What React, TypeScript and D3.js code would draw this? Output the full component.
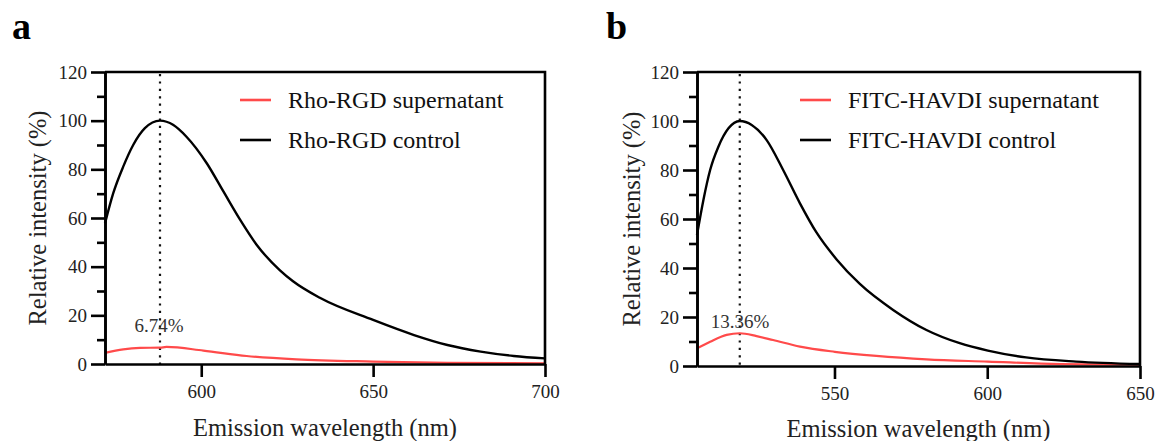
import React, { useEffect, useRef } from 'react';
import * as d3 from 'd3';

// Panel a: Rho-RGD
const rhoControlWl = [572, 574.4, 577.3, 580.2, 583.6, 588, 591.9, 595.7, 601.6, 606.4, 611.2, 616.1, 622.9, 626.7, 634.5, 650, 661.9, 671.6, 681.3, 690.9, 700];
const rhoControl = [57.8, 70.2, 81.1, 90, 96.9, 100, 98.2, 93.4, 82.5, 71, 59.5, 49, 38.5, 34, 27.2, 18.1, 11.9, 7.8, 5.1, 3.3, 2.3];
const rhoSupWl = [572, 577.3, 582.2, 588, 589.9, 600.6, 613.2, 627.7, 650, 671.6, 700];
const rhoSupernatant = [4.6, 6.0, 6.6, 6.74, 7.0, 5.5, 3.3, 1.9, 1.0, 0.5, 0.3];

// Panel b: FITC-HAVDI
const fitcControlWl = [505, 507.1, 509.3, 512, 515.3, 519, 522.9, 527.8, 533.2, 538.7, 544.1, 550.7, 558.3, 569.2, 580.1, 591, 600.2, 612.7, 629.1, 650];
const fitcControl = [53.5, 67.8, 80, 89.5, 97, 100, 98.4, 92.2, 80, 66.4, 54.5, 43.5, 33.5, 22.9, 14.7, 9.3, 6.3, 3.5, 1.8, 0.8];
const fitcSupWl = [505, 509.3, 514.7, 519, 524.5, 529.9, 538.7, 550.1, 563.7, 580.1, 600.2, 623.8, 650];
const fitcSupernatant = [7.2, 9.9, 12.7, 13.36, 12.2, 10.6, 7.9, 5.8, 4.1, 2.7, 1.8, 0.8, 0.5];

const yMajorTicks = [0, 20, 40, 60, 80, 100, 120];
const yMinorTicks = [10, 30, 50, 70, 90, 110];
const rhoXTicks = [600, 650, 700];
const fitcXTicks = [550, 600, 650];

const FONT = "'Liberation Serif', 'Times New Roman', Tinos, 'DejaVu Serif', serif";
const RED = '#ff4a4a';

const panels = [
  {
    letter: 'a', letterX: 12, left: 105, right: 545, top: 72, bottom: 364,
    xDomain: [572, 700], xTicks: rhoXTicks, peak: 588,
    control: rhoControlWl.map((w, i) => [w, rhoControl[i]]),
    sup: rhoSupWl.map((w, i) => [w, rhoSupernatant[i]]),
    pct: '6.74%', pctX: 159, pctY: 332,
    legendX: 240, names: ['Rho-RGD supernatant', 'Rho-RGD control'],
    yTitleX: 46, xTitleY: 436
  },
  {
    letter: 'b', letterX: 606, left: 697, right: 1140, top: 72, bottom: 366,
    xDomain: [505, 650], xTicks: fitcXTicks, peak: 519,
    control: fitcControlWl.map((w, i) => [w, fitcControl[i]]),
    sup: fitcSupWl.map((w, i) => [w, fitcSupernatant[i]]),
    pct: '13.36%', pctX: 740, pctY: 328,
    legendX: 800, names: ['FITC-HAVDI supernatant', 'FITC-HAVDI control'],
    yTitleX: 640, xTitleY: 437
  }
];

const App = () => {
  const svgRef = useRef(null);

  useEffect(() => {
    const svg = d3.select(svgRef.current);
    svg.selectAll('*').remove();

    panels.forEach(p => {
      const x = d3.scaleLinear().domain(p.xDomain).range([p.left, p.right]);
      const y = d3.scaleLinear().domain([0, 120]).range([p.bottom, p.top]);
      const g = svg.append('g').attr('font-family', FONT);

      // panel letter
      g.append('text')
        .attr('x', p.letterX).attr('y', 39)
        .attr('font-weight', 700).attr('font-size', 38)
        .text(p.letter);

      const line = d3.line()
        .x(d => x(d[0]))
        .y(d => y(d[1]))
        .curve(d3.curveMonotoneX);

      // dotted peak marker
      g.append('line')
        .attr('x1', x(p.peak)).attr('x2', x(p.peak))
        .attr('y1', y(120) + 2).attr('y2', y(0) + 4)
        .attr('stroke', '#111').attr('stroke-width', 2.2)
        .attr('stroke-dasharray', '2.2,5.2');

      g.append('path').datum(p.sup)
        .attr('d', line).attr('fill', 'none')
        .attr('stroke', RED).attr('stroke-width', 2.2);

      g.append('path').datum(p.control)
        .attr('d', line).attr('fill', 'none')
        .attr('stroke', '#000').attr('stroke-width', 2.4);

      // axes
      const styleAxis = sel => {
        sel.attr('font-family', FONT).attr('font-size', 19);
        sel.selectAll('path, line').attr('stroke', '#000').attr('stroke-width', 2.6);
        sel.selectAll('text').attr('fill', '#222');
      };

      g.append('g')
        .attr('transform', `translate(${p.left},0)`)
        .call(d3.axisLeft(y).tickValues(yMinorTicks).tickSize(8).tickSizeOuter(0).tickFormat(() => ''))
        .call(styleAxis);

      g.append('g')
        .attr('transform', `translate(${p.left},0)`)
        .call(d3.axisLeft(y).tickValues(yMajorTicks).tickSize(14).tickSizeOuter(0).tickPadding(4).tickFormat(d3.format('d')))
        .call(styleAxis);

      g.append('g')
        .attr('transform', `translate(0,${p.bottom})`)
        .call(d3.axisBottom(x).tickValues(p.xTicks).tickSize(13).tickSizeOuter(0).tickPadding(8))
        .call(styleAxis);

      // frame top + right
      g.append('path')
        .attr('d', `M${p.left},${p.top}H${p.right}V${p.bottom}`)
        .attr('fill', 'none').attr('stroke', '#000').attr('stroke-width', 2.6);

      // peak percentage
      g.append('text')
        .attr('x', p.pctX).attr('y', p.pctY)
        .attr('text-anchor', 'middle')
        .attr('font-size', 19).attr('fill', '#333')
        .text(p.pct);

      // legend
      [RED, '#000'].forEach((c, i) => {
        const ly = 100 + i * 40;
        g.append('line')
          .attr('x1', p.legendX).attr('x2', p.legendX + 31)
          .attr('y1', ly).attr('y2', ly)
          .attr('stroke', c).attr('stroke-width', 2.6);
        g.append('text')
          .attr('x', p.legendX + 48).attr('y', ly + 7.5)
          .attr('font-size', 24).attr('fill', '#111')
          .text(p.names[i]);
      });

      // axis titles
      g.append('text')
        .attr('x', (p.left + p.right) / 2).attr('y', p.xTitleY)
        .attr('text-anchor', 'middle')
        .attr('font-size', 24.5).attr('fill', '#222')
        .text('Emission wavelength (nm)');

      g.append('text')
        .attr('transform', `translate(${p.yTitleX},${(p.top + p.bottom) / 2}) rotate(-90)`)
        .attr('text-anchor', 'middle')
        .attr('font-size', 24.5).attr('fill', '#222')
        .text('Relative intensity (%)');
    });
  }, []);

  return (
    <svg
      ref={svgRef}
      width={1157}
      height={441}
      style={{ position: 'absolute', left: 0, top: 0, background: '#fff' }}
    />
  );
};

export default App;
